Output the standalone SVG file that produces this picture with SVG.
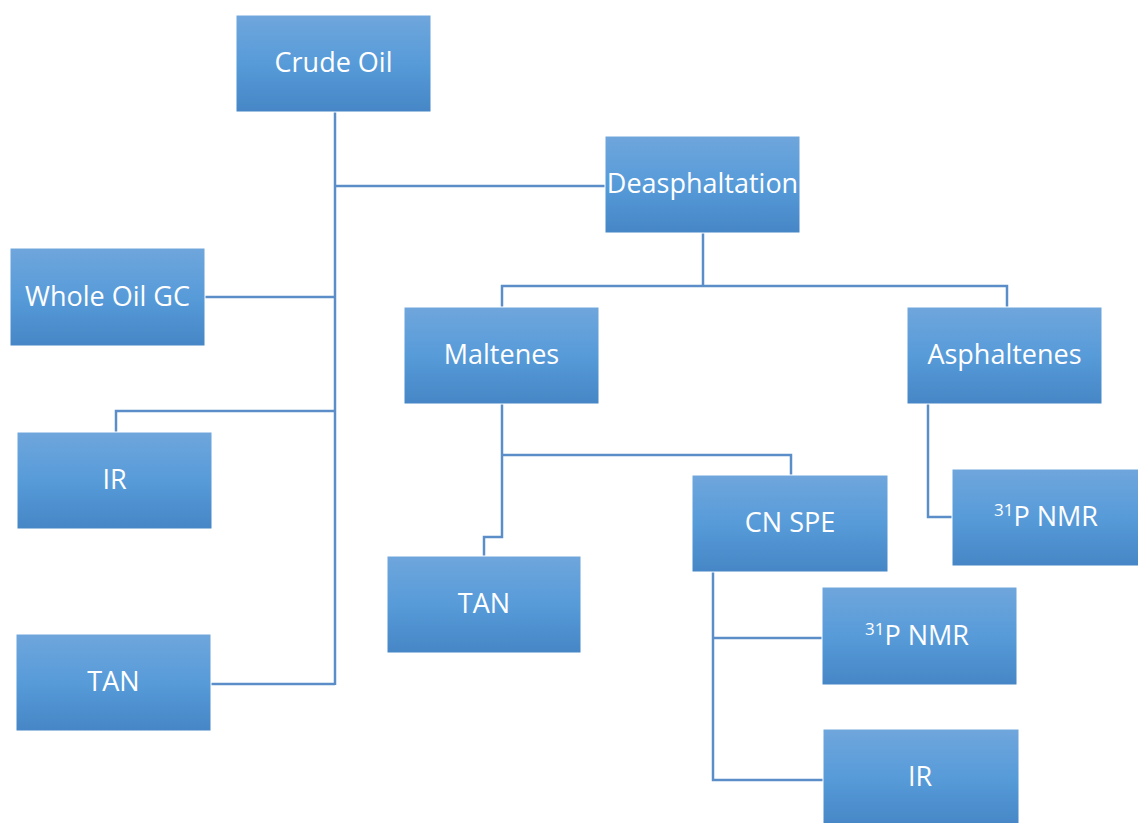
<svg xmlns="http://www.w3.org/2000/svg" width="1138" height="823" viewBox="0 0 1138 823">
<defs>
<linearGradient id="g" x1="0" y1="0" x2="0" y2="1">
<stop offset="0" stop-color="#6fa6dc"/>
<stop offset="0.5" stop-color="#579bd9"/>
<stop offset="1" stop-color="#4686c6"/>
</linearGradient>
<style>
.box{fill:url(#g);stroke:#ffffff;stroke-width:1}
.lbl{font-family:"Open Sans","Liberation Sans",sans-serif;font-size:27px;fill:#ffffff;text-anchor:middle}
.sup{font-size:17px}
.con{fill:none;stroke:#5b8ec8;stroke-width:2.5;stroke-linejoin:miter}
</style>
</defs>
<rect width="1138" height="823" fill="#ffffff"/>
<g id="connectors">
<path class="con" d="M335 112 V685"/>
<path class="con" d="M335 186 H605"/>
<path class="con" d="M205 297 H335"/>
<path class="con" d="M335 411 H116 V432"/>
<path class="con" d="M211 684 H335"/>
<path class="con" d="M703 233 V286"/>
<path class="con" d="M502 307 V286 H1007 V307"/>
<path class="con" d="M502 404 V537 H484 V556"/>
<path class="con" d="M502 455 H791 V475"/>
<path class="con" d="M928 404 V517 H952"/>
<path class="con" d="M713 572 V780 H823"/>
<path class="con" d="M713 638 H822"/>
</g>
<g id="crude-oil"><rect class="box" x="236" y="15" width="195" height="97"/><text class="lbl" x="333.5" y="72">Crude Oil</text></g>
<g id="deasphaltation"><rect class="box" x="605" y="136" width="195" height="97"/><text class="lbl" x="702.5" y="193">Deasphaltation</text></g>
<g id="whole-oil-gc"><rect class="box" x="10" y="248" width="195" height="98"/><text class="lbl" x="107.5" y="306">Whole Oil GC</text></g>
<g id="ir-left"><rect class="box" x="17" y="432" width="195" height="97"/><text class="lbl" x="114.5" y="489">IR</text></g>
<g id="tan-left"><rect class="box" x="16" y="634" width="195" height="97"/><text class="lbl" x="113.5" y="691">TAN</text></g>
<g id="maltenes"><rect class="box" x="404" y="307" width="195" height="97"/><text class="lbl" x="501.5" y="364">Maltenes</text></g>
<g id="asphaltenes"><rect class="box" x="907" y="307" width="195" height="97"/><text class="lbl" x="1004.5" y="364">Asphaltenes</text></g>
<g id="cn-spe"><rect class="box" x="692" y="475" width="196" height="97"/><text class="lbl" x="790" y="532">CN SPE</text></g>
<g id="tan-mid"><rect class="box" x="387" y="556" width="194" height="97"/><text class="lbl" x="484" y="613">TAN</text></g>
<g id="p-nmr-asph"><rect class="box" x="952" y="469" width="195" height="97"/><text class="lbl" x="1046" y="526"><tspan class="sup" dy="-10">31</tspan><tspan dy="10">P NMR</tspan></text></g>
<g id="p-nmr-cn"><rect class="box" x="822" y="587" width="195" height="98"/><text class="lbl" x="917" y="645"><tspan class="sup" dy="-10">31</tspan><tspan dy="10">P NMR</tspan></text></g>
<g id="ir-bottom"><rect class="box" x="823" y="729" width="196" height="98"/><text class="lbl" x="920" y="786">IR</text></g>
</svg>
